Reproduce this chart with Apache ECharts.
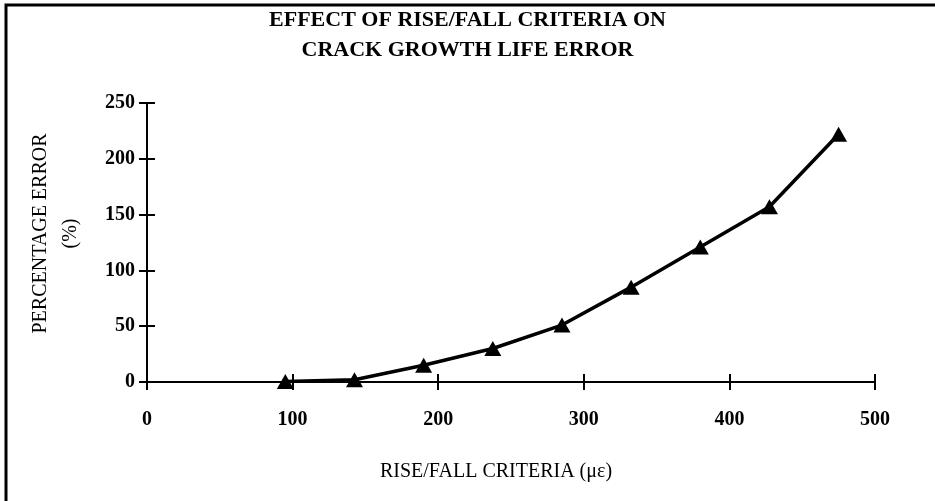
<!DOCTYPE html>
<html>
<head>
<meta charset="utf-8">
<script src="https://cdn.jsdelivr.net/npm/echarts@6/dist/echarts.min.js"></script>
<style>
  html, body { margin: 0; padding: 0; background: #fff; }
  #chart { width: 935px; height: 501px; }
</style>
</head>
<body>
<div id="chart"></div>
<script>
// rise/fall criteria (micro strain) and the percentage error
const criteria = [95, 142.5, 190, 237.5, 285, 332.5, 380, 427.5, 475];
const percentError = [0.5, 2, 15, 30, 51, 85, 121, 157, 222];

const xTicks = [0, 100, 200, 300, 400, 500];
const yTicks = [0, 50, 100, 150, 200, 250];

const FONT = "Liberation Serif";

const chart = echarts.init(document.getElementById("chart"), null, { renderer: "canvas" });

const axisLine = { show: true, onZero: false, lineStyle: { color: "#000", width: 2 } };
const tickStyle = { color: "#000", width: 2 };

const option = {
  backgroundColor: "#fff",
  animation: false,
  title: {
    text: "EFFECT OF RISE/FALL CRITERIA ON\nCRACK GROWTH LIFE ERROR",
    left: "center",
    top: 0,
    textStyle: {
      fontFamily: FONT,
      fontSize: 22,
      fontWeight: "bold",
      lineHeight: 30,
      color: "#000"
    }
  },
  grid: {
    left: 147,
    right: 60,
    top: 103,
    bottom: 119
  },
  xAxis: [
    {
      type: "value",
      position: "bottom",
      min: xTicks[0],
      max: xTicks[xTicks.length - 1],
      interval: 100,
      axisLine: axisLine,
      axisTick: { show: true, inside: false, length: 8, lineStyle: tickStyle },
      splitLine: { show: false },
      axisLabel: {
        margin: 28,
        fontFamily: FONT,
        fontSize: 20,
        fontWeight: "bold",
        color: "#000"
      },
      name: "RISE/FALL CRITERIA (\u03bc\u03b5)",
      nameLocation: "middle",
      nameGap: 80,
      nameTextStyle: { fontFamily: FONT, fontSize: 20, color: "#000", padding: [0, 30, 0, 0] }
    },
    {
      type: "value",
      position: "bottom",
      min: xTicks[0],
      max: xTicks[xTicks.length - 1],
      interval: 100,
      axisLine: { show: false, onZero: false },
      axisTick: { show: true, inside: true, length: 8, lineStyle: tickStyle },
      splitLine: { show: false },
      axisLabel: { show: false }
    }
  ],
  yAxis: [
    {
      type: "value",
      position: "left",
      min: yTicks[0],
      max: yTicks[yTicks.length - 1],
      interval: 50,
      axisLine: axisLine,
      axisTick: { show: true, inside: false, length: 8, lineStyle: tickStyle },
      splitLine: { show: false },
      axisLabel: {
        margin: 12,
        fontFamily: FONT,
        fontSize: 20,
        fontWeight: "bold",
        color: "#000"
      },
      name: "PERCENTAGE ERROR\n(%)",
      nameLocation: "middle",
      nameRotate: 90,
      nameGap: 61,
      nameTextStyle: { fontFamily: FONT, fontSize: 20, lineHeight: 30, color: "#000", padding: [0, 0, 0, 18] }
    },
    {
      type: "value",
      position: "left",
      min: yTicks[0],
      max: yTicks[yTicks.length - 1],
      interval: 50,
      axisLine: { show: false, onZero: false },
      axisTick: { show: true, inside: true, length: 8, lineStyle: tickStyle },
      splitLine: { show: false },
      axisLabel: { show: false }
    }
  ],
  graphic: [
    {
      type: "rect",
      silent: true,
      shape: { x: 6, y: 5, width: 1000, height: 1000 },
      style: { fill: "none", stroke: "#000", lineWidth: 3 }
    }
  ],
  series: [
    {
      type: "line",
      xAxisIndex: 0,
      yAxisIndex: 0,
      data: criteria.map((c, i) => [c, percentError[i]]),
      symbol: "triangle",
      symbolSize: [17, 15],
      itemStyle: { color: "#000" },
      lineStyle: { color: "#000", width: 3.5 },
      z: 5
    }
  ]
};

chart.setOption(option);
</script>
</body>
</html>
